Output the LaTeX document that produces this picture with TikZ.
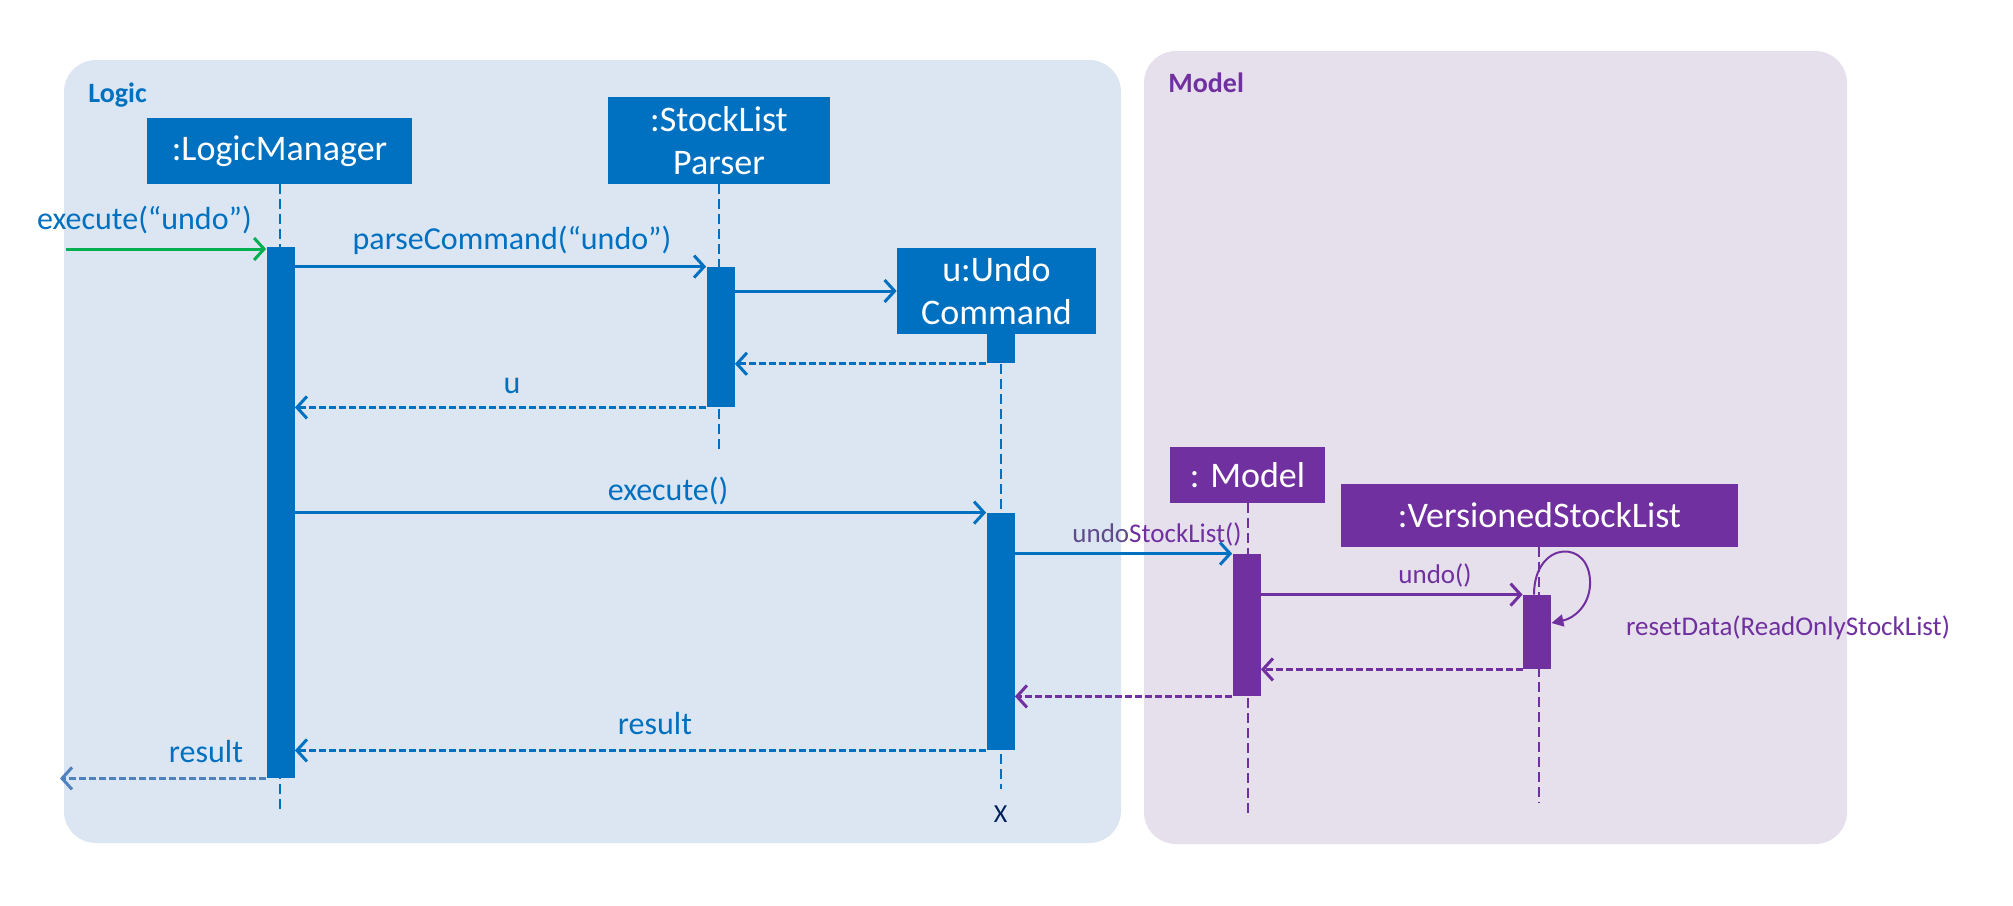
\documentclass[tikz,border=0pt]{standalone}
\usepackage{fontspec}
\setmainfont{Carlito}
\usetikzlibrary{arrows.meta}

\definecolor{logicblue}{HTML}{0070C0}
\definecolor{logicbg}{HTML}{DCE6F2}
\definecolor{modelpurple}{HTML}{7030A0}
\definecolor{modelbg}{HTML}{E6E0EC}
\definecolor{callgreen}{HTML}{00B050}
\definecolor{resultblue}{HTML}{4F81BD}
\definecolor{undogrey}{HTML}{5F4B8B}
\definecolor{xnavy}{HTML}{002060}

\begin{document}
\begin{tikzpicture}[x=0.5pt, y=-0.5pt,
    obj/.style={rectangle, fill=#1, text=white, inner sep=0pt, align=center,
        font=\fontsize{18}{21.5}\selectfont},
    actbar/.style={rectangle, fill=#1, inner sep=0pt, minimum width=14pt},
    life/.style={draw=#1, line width=1pt, dash pattern=on 5pt off 2.5pt},
    call/.style={draw=#1, line width=1.5pt, -{Straight Barb[length=5pt,width=11pt]}},
    reply/.style={call=#1, dash pattern=on 3.5pt off 1.5pt},
    lbl/.style={text=#1, anchor=base, inner sep=0pt, font=\fontsize{16}{19}\selectfont},
    mlbl/.style={text=#1, anchor=base, inner sep=0pt, font=\fontsize{13.5}{16}\selectfont},
    title/.style={text=#1, anchor=base west, inner sep=0pt, font=\bfseries\fontsize{14}{17}\selectfont}]

    \useasboundingbox[fill=white] (0,0) rectangle (2013,905);

    % the two packages
    \fill[logicbg, rounded corners=16pt] (64,60) rectangle (1121,843);
    \fill[modelbg, rounded corners=16pt] (1144,51) rectangle (1847,844);
    \node[title=logicblue] (logictitle) at (88,102) {Logic};
    \node[title=modelpurple] (modeltitle) at (1168,92) {Model};

    % objects
    \node[obj=logicblue, minimum width=132.5pt, minimum height=33pt] (lm) at (279.5,151) {:LogicManager};
    \node[obj=logicblue, minimum width=111pt, minimum height=43.5pt] (parser) at (719,140.5) {:StockList\\Parser};
    \node[obj=logicblue, minimum width=99.5pt, minimum height=43pt] (ucmd) at (996.5,291) {u:Undo\\Command};
    \node[obj=modelpurple, minimum width=77.5pt, minimum height=28pt] (model) at (1247.5,475) {: Model};
    \node[obj=modelpurple, minimum width=198.5pt, minimum height=31.5pt] (vsl) at (1539.5,515.5) {:VersionedStockList};

    % lifelines
    \coordinate (lmend) at (279.5,813);
    \coordinate (parserend) at (719,452);
    \coordinate (ucmdend) at (1000.5,789);
    \coordinate (modelend) at (1247.5,813);
    \coordinate (vslend) at (1539,803);
    \node[actbar=logicblue, minimum height=14.5pt, anchor=north] (ubar0) at (1000.5,334) {};
    \draw[life=logicblue] (lm.south) -- (lmend);
    \draw[life=logicblue] (parser.south) -- (parserend);
    \draw[life=logicblue] (ubar0.south) -- (ucmdend);
    \draw[life=modelpurple] (model.south) -- (modelend);
    \draw[life=modelpurple] (vsl.south -| vslend) -- (vslend);
    \node[text=xnavy, anchor=base, inner sep=0pt, font=\fontsize{13}{16}\selectfont] (destroy) at (1000.5,822) {X};

    % activations
    \node[actbar=logicblue, minimum height=265.5pt] (lmbar) at (280.5,512.5) {};
    \node[actbar=logicblue, minimum height=70pt] (pbar) at (720.5,337) {};
    \node[actbar=logicblue, minimum height=118.5pt] (ubar) at (1000.5,631.5) {};
    \node[actbar=modelpurple, minimum height=71pt] (mbar) at (1246.5,625) {};
    \node[actbar=modelpurple, minimum height=37pt] (vbar) at (1537,632) {};

    % messages
    \coordinate (start) at (66,249);
    \coordinate (finish) at (60,778);
    \draw[call=callgreen] (start) -- (start -| lmbar.west);
    \draw[call=logicblue] (lmbar.east |- pbar.north) -- (pbar.north west);
    \draw[call=logicblue] (pbar.east |- ucmd.west) -- (ucmd.west);
    \draw[reply=logicblue] (ubar0.south west) -- (pbar.east |- ubar0.south);
    \draw[reply=logicblue] (pbar.south west) -- (lmbar.east |- pbar.south);
    \draw[call=logicblue] (lmbar.east |- ubar.north) -- (ubar.north west);
    \draw[call=logicblue] (ubar.east |- mbar.north) -- (mbar.north west);
    \draw[call=modelpurple] (mbar.east |- vbar.north) -- (vbar.north west);
    \draw[modelpurple, line width=1pt, -{Triangle[length=6pt,width=6pt]}]
        ([xshift=-1.5pt]vbar.north) .. controls +(0,-55) and (1592,538) .. (1590,585)
        .. controls (1589,605) and (1575,618) .. ([yshift=4.5pt]vbar.east);
    \draw[reply=modelpurple] (vbar.south west) -- (mbar.east |- vbar.south);
    \draw[reply=modelpurple] (mbar.south west) -- (ubar.east |- mbar.south);
    \draw[reply=logicblue] (ubar.south west) -- (lmbar.east |- ubar.south);
    \draw[reply=resultblue] (lmbar.south west) -- (lmbar.south west -| finish);

    % message labels
    \node[lbl=logicblue] (lexecundo) at (144.5,229) {execute(“undo”)};
    \node[lbl=logicblue] (lparse) at (512,249) {parseCommand(“undo”)};
    \node[lbl=logicblue] (lu) at (512,393) {u};
    \node[lbl=logicblue] (lexec) at (668,500) {execute()};
    \node[lbl=logicblue] (lresult) at (655,734) {result};
    \node[lbl=logicblue] (lresultout) at (206,762) {result};
    \node[mlbl=modelpurple] (lundolist) at (1157,542) {\textcolor{undogrey}{undo}StockList()};
    \node[mlbl=modelpurple] (lundo) at (1435,583) {undo()};
    \node[mlbl=modelpurple] (lreset) at (1788,635) {resetData(ReadOnlyStockList)};
\end{tikzpicture}
\end{document}
